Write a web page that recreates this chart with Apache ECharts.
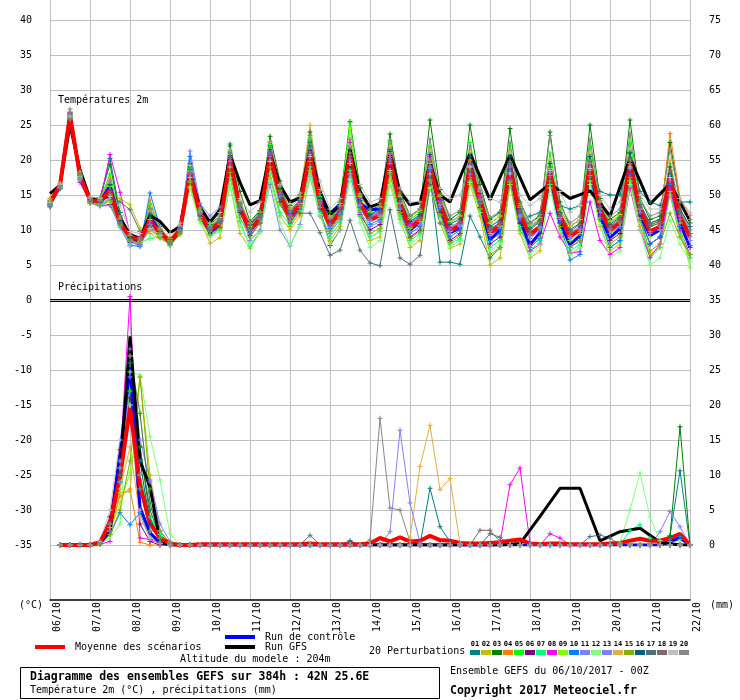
<!DOCTYPE html>
<html><head><meta charset="utf-8">
<script src="https://cdn.jsdelivr.net/npm/echarts@6/dist/echarts.min.js"></script>
<style>html,body{margin:0;padding:0;background:#fff}#c{width:740px;height:700px}</style>
</head><body><div id="c"></div>
<script>
const DATE_LABELS = ['06/10','07/10','08/10','09/10','10/10','11/10','12/10','13/10','14/10','15/10','16/10','17/10','18/10','19/10','20/10','21/10','22/10'];
const STEP_H = 6;
const PERT_NAMES = ['01','02','03','04','05','06','07','08','09','10','11','12','13','14','15','16','17','18','19','20'];
const PERT_COLORS = ['#008080','#c0c000','#008000','#ff8000','#00ff00','#800080','#00ff80','#ff00ff','#80ff00','#0080ff','#8080ff','#80ff80','#8080ff','#e0b040','#80b000','#006080','#507078','#806870','#c0c0c0','#888888'];

// Temperature 2m (°C), 6-hourly from 06/10 00Z
const MEAN_T = [13.9,16.4,26.4,17.7, 14.3,14.0,15.7,11.0, 9.0,8.6,11.4,9.6, 8.3,10.0,18.1,12.4, 10.0,11.0,20.0,13.1, 10.0,11.7,20.7,15.0, 11.9,13.6,21.0,13.8, 10.7,12.6,20.7,13.8, 11.4,12.1,20.2,13.8, 10.3,11.4,19.2,13.6, 9.8,10.7,19.0,14.3, 9.6,10.5,19.0,12.1, 9.3,10.5,18.3,11.9, 9.1,10.0,19.3,12.9, 10.0,11.0,19.5,12.9, 9.8,10.5,17.4,11.9, 9.0];
const CTRL_T = [14.0,16.4,26.6,17.5, 14.2,14.0,16.3,11.2, 9.0,8.3,11.8,9.8, 8.2,9.8,18.4,12.2, 9.7,10.8,20.3,13.0, 9.8,11.5,21.2,15.0, 11.7,13.4,21.3,14.4, 12.4,13.6,20.5,13.8, 12.9,13.0,20.0,13.5, 10.0,11.2,19.0,13.0, 9.6,10.3,19.5,13.8, 8.6,10.0,18.8,11.3, 7.9,9.6,18.0,11.0, 7.9,9.2,19.0,12.0, 8.9,10.2,19.8,12.3, 9.2,10.0,17.8,11.0, 7.5];
const GFS_T = [15.2,16.4,25.0,18.6, 14.5,14.2,15.0,11.8, 9.3,8.8,12.1,11.2, 9.6,10.5,18.0,13.3, 11.1,12.9,20.8,16.8, 13.6,14.2,21.0,16.4, 14.0,14.6,21.5,15.5, 12.2,13.5,21.5,15.5, 13.3,13.8,21.0,15.5, 13.6,13.9,19.5,15.0, 14.0,null,21.0,null, 14.3,null,20.7,null, 14.3,null,16.6,null, 14.5,null,15.6,null, 12.0,null,20.3,null, 13.7,null,16.6,null, 11.3];

const T01 = [13.8,16.3,26.6,17.9, 14.6,14.5,20.2,12.5, 8.8,8.4,13.0,9.8, 8.5,10.2,19.0,12.8, 10.5,11.6,22.3,14.0, 10.8,12.4,22.0,16.0, 12.8,14.3,22.5,14.6, 11.5,13.2,22.0,14.5, 12.0,12.8,21.5,14.5, 11.0,12.0,17.6,5.4, 5.4,5.1,12.0,9.0, 6.0,7.5,17.0,11.0, 12.0,12.5,19.5,13.5, 13.0,13.5,20.0,15.5, 15.0,15.0,21.0,15.5, 14.0,13.5,18.0,14.0, 14.0];
const T02 = [13.6,16.2,26.0,17.5, 14.0,14.2,15.0,14.5, 13.6,10.3,9.5,8.8, 8.0,9.5,16.2,11.4, 8.1,8.9,16.4,9.5, 7.4,9.7,17.5,12.0, 10.0,12.0,18.5,12.0, 8.5,10.5,18.0,12.0, 8.5,9.0,17.0,11.5, 7.5,8.5,16.0,11.0, 7.4,8.0,16.5,12.0, 5.0,6.0,16.5,9.5, 6.0,7.0,16.5,9.5, 6.5,7.5,17.0,10.5, 7.0,8.0,17.0,10.5, 6.5,7.5,15.0,9.0, 6.0];
const T03 = [14.2,16.5,26.8,18.2, 14.6,14.6,19.4,12.0, 9.0,8.8,12.0,10.0, 8.7,10.4,19.5,13.0, 10.8,12.0,22.0,15.5, 11.2,12.8,23.4,17.0, 13.5,15.0,24.0,15.5, 12.5,14.0,25.5,16.0, 12.8,13.5,23.7,15.5, 12.0,13.0,25.7,15.8, 11.5,12.5,25.0,16.5, 11.5,12.5,24.5,14.0, 11.0,12.0,24.0,14.0, 10.5,11.5,25.0,14.5, 11.5,12.5,25.7,14.5, 11.5,12.0,22.5,14.0, 11.0];
const T04 = [14.5,16.6,26.9,18.0, 14.4,14.3,17.4,11.2, 8.5,8.0,14.3,10.2, 8.4,10.0,18.0,12.5, 9.8,10.8,20.3,13.0, 10.0,11.6,21.0,14.8, 10.5,12.5,22.0,14.0, 10.0,12.0,21.0,13.5, 11.5,12.0,20.5,13.8, 10.5,11.5,20.0,14.0, 10.0,11.0,20.0,15.0, 10.0,11.0,19.5,12.5, 9.5,10.5,18.5,12.0, 9.0,10.0,19.5,13.0, 10.0,11.0,19.5,13.0, 10.5,11.0,23.8,14.5, 12.1];
const T05 = [14.1,16.4,26.5,17.8, 14.5,14.4,18.0,11.5, 9.3,8.9,13.7,10.0, 8.6,10.3,18.8,12.7, 10.4,11.5,21.2,14.0, 10.6,12.2,22.2,16.2, 12.5,14.2,23.0,14.8, 11.8,13.5,25.3,15.2, 12.5,13.2,22.5,15.0, 11.5,12.5,22.0,15.0, 11.0,12.0,22.5,15.8, 11.0,12.0,22.0,13.5, 10.5,11.5,21.0,13.0, 10.5,11.5,22.0,14.0, 11.0,12.0,22.5,14.0, 10.5,11.5,19.5,12.5, 9.5];
const T06 = [13.5,16.0,26.2,17.2, 13.9,13.5,13.6,11.0, 8.2,7.9,10.5,9.0, 7.9,9.6,17.2,12.0, 9.5,10.4,19.0,12.5, 9.2,11.0,19.5,14.0, 11.0,13.0,20.0,13.0, 7.8,10.0,19.0,12.2, 10.0,10.8,19.0,12.8, 9.0,10.0,18.0,12.5, 8.5,9.5,17.5,13.2, 8.0,9.0,18.0,11.0, 8.0,9.5,17.0,11.0, 7.5,8.5,17.5,12.0, 8.5,9.5,18.0,12.0, 8.0,9.0,16.0,10.5, 7.5];
const T07 = [13.7,16.2,26.3,17.6, 14.2,13.8,14.2,10.6, 8.4,8.2,8.8,9.0, 8.0,9.7,17.0,11.8, 9.2,10.0,17.5,11.2, 7.6,9.8,18.0,12.5, 10.8,12.8,19.0,12.5, 9.0,11.0,18.5,12.0, 9.0,9.8,18.0,12.0, 8.5,9.5,17.0,12.0, 8.0,8.8,17.0,13.0, 7.5,8.5,17.0,10.5, 7.0,8.5,16.5,10.0, 7.0,8.0,17.0,11.5, 7.5,8.5,17.0,11.5, 6.0,7.5,15.5,9.5, 6.0];
const T08 = [13.6,16.1,26.7,16.8, 14.0,14.0,20.8,15.4, 9.5,9.0,11.0,9.5, 8.3,10.0,18.2,12.4, 10.0,11.0,20.0,13.2, 10.3,12.0,21.0,15.3, 12.2,14.0,21.5,14.2, 11.0,13.0,22.5,14.5, 11.8,12.6,20.8,14.0, 10.8,11.8,20.5,14.2, 10.2,11.0,19.5,14.8, 10.0,11.0,17.3,11.5, 7.0,8.0,12.4,9.0, 6.7,6.9,14.0,8.5, 6.5,7.5,16.0,10.0, 6.1,8.0,16.0,10.0, 6.5];
const T09 = [14.0,16.5,26.4,17.9, 14.4,14.2,16.2,11.0, 8.6,8.4,11.5,9.6, 8.5,10.1,18.5,12.6, 10.2,11.2,20.8,13.5, 10.5,12.0,21.6,15.6, 12.0,13.8,22.0,14.3, 10.8,12.8,24.5,14.8, 11.2,12.0,21.0,13.8, 10.2,11.2,19.5,13.6, 9.8,10.6,19.0,14.3, 9.5,10.5,19.5,12.0, 9.0,10.3,18.8,11.8, 8.5,9.5,19.8,13.0, 9.5,10.5,20.0,13.0, 9.0,10.0,17.5,11.0, 4.6];
const T10 = [13.4,15.9,25.8,17.0, 14.1,13.6,15.5,10.7, 7.9,7.6,15.3,10.5, 8.1,10.2,20.5,13.2, 9.9,11.2,21.0,13.8, 9.6,11.5,21.0,15.0, 11.5,13.2,21.2,13.5, 10.2,12.2,20.5,13.2, 10.8,11.5,19.8,13.2, 9.5,10.5,18.5,13.0, 9.0,10.0,18.5,14.0, 8.5,9.5,18.5,11.5, 7.5,8.8,17.5,11.0, 5.7,6.5,17.5,11.5, 7.5,8.5,18.0,11.5, 8.0,9.0,16.5,10.5, 7.8];
const T11 = [13.9,16.3,26.2,17.4, 13.8,13.4,13.5,10.4, 7.7,7.8,10.2,9.2, 8.2,10.5,21.3,13.8, 12.0,13.3,20.5,13.0, 8.5,10.0,16.5,10.0, 7.7,10.8,17.6,12.0, 9.5,11.5,18.0,12.5, 10.5,11.2,19.5,13.0, 9.8,10.8,18.8,13.2, 9.5,10.5,18.0,13.8, 9.2,10.2,18.2,11.8, 8.8,10.0,17.8,11.5, 8.8,9.8,18.5,12.5, 9.5,10.5,18.8,12.5, 9.5,10.0,17.0,11.5, 8.5];
const T12 = [13.6,16.1,26.0,17.3, 14.0,13.6,14.0,10.8, 8.0,8.3,8.7,9.2, 7.7,9.3,16.0,11.0, 9.0,9.8,16.3,10.5, 8.0,9.6,17.0,11.0, 7.9,10.5,17.5,12.2, 8.0,10.0,17.2,11.0, 7.5,8.5,16.5,11.0, 8.0,9.0,16.0,11.5, 7.6,8.5,16.8,12.5, 7.0,8.0,16.5,9.8, 6.5,7.8,16.0,9.8, 6.5,7.5,16.5,10.8, 6.0,7.0,16.5,10.0, 5.0,6.0,11.4,8.0, 5.5];
const T13 = [13.8,16.3,26.5,17.7, 14.1,13.8,14.5,11.0, 8.3,8.0,10.8,9.4, 8.3,10.0,18.3,12.3, 10.1,11.0,19.8,13.0, 10.0,11.6,20.5,14.8, 11.8,13.5,20.8,13.8, 10.5,12.4,20.0,13.6, 11.4,12.2,20.2,13.9, 10.4,11.5,19.0,13.6, 10.0,10.8,19.2,14.4, 9.8,10.6,19.0,12.2, 9.3,10.5,18.2,12.0, 9.2,10.2,19.5,13.0, 10.2,11.2,19.5,13.0, 9.8,10.5,17.5,12.0, 9.0];
const T14 = [14.3,16.6,26.9,18.3, 14.7,14.6,17.0,11.7, 9.2,8.7,12.8,10.3, 8.8,10.6,19.2,13.0, 10.6,11.8,21.5,14.2, 11.0,12.5,22.5,16.4, 13.0,14.8,25.0,15.8, 12.0,13.8,22.0,15.0, 12.6,13.4,22.0,14.8, 11.8,12.8,21.5,14.8, 11.2,12.0,21.0,15.5, 11.0,12.0,21.0,13.2, 10.6,11.8,20.0,12.8, 10.5,11.5,21.0,14.0, 11.2,12.2,21.5,13.8, 11.0,11.5,20.0,13.0, 10.5];
const T15 = [13.5,16.0,25.9,17.4, 13.9,13.5,14.2,10.8, 8.5,8.2,10.0,9.0, 7.8,9.4,16.8,11.5, 9.3,10.2,18.2,11.8, 9.0,11.0,19.0,13.6, 11.2,13.2,19.8,13.2, 9.8,11.8,19.5,12.8, 9.5,10.2,18.2,12.5, 8.8,9.8,17.2,12.2, 8.2,9.2,17.5,13.0, 6.5,7.5,16.8,10.0, 7.8,9.0,17.0,10.5, 7.5,8.5,17.8,11.8, 8.0,9.0,17.5,11.5, 7.0,8.0,12.4,9.0, 6.5];
const T16 = [13.7,16.2,26.4,17.8, 14.4,14.3,16.5,11.3, 8.9,8.6,12.3,9.8, 8.6,10.2,18.6,12.6, 10.3,11.4,20.6,13.6, 10.7,12.3,21.5,15.8, 12.5,14.2,22.0,14.5, 11.2,13.0,21.5,14.2, 12.2,13.0,21.2,14.4, 11.2,12.2,20.8,14.4, 10.8,11.6,20.5,15.2, 10.5,11.4,20.5,13.0, 10.2,11.4,19.5,12.5, 10.0,11.0,20.5,13.5, 10.8,11.8,21.0,13.6, 11.0,11.5,19.0,13.0, 10.5];
const T17 = [13.3,15.9,26.0,17.5, 14.3,14.0,15.0,14.0, 12.9,9.8,10.5,9.4, 8.2,9.8,17.6,12.1, 10.0,11.0,19.5,12.8, 10.2,12.0,20.0,14.5, 12.6,12.4,12.4,9.6, 6.4,7.1,11.4,7.1, 5.3,4.9,12.9,6.0, 5.1,6.4,16.5,11.0, 10.0,11.0,18.5,14.0, 10.0,11.0,19.5,12.5, 9.6,10.8,18.5,12.0, 9.5,10.5,19.0,13.0, 10.4,11.4,19.8,13.2, 10.5,11.0,18.0,12.5, 9.5];
const T18 = [14.0,16.4,26.6,17.9, 14.2,14.0,15.2,10.9, 8.7,8.5,11.2,9.5, 8.4,10.1,18.0,12.4, 10.2,11.3,20.2,13.4, 10.3,12.0,20.8,15.2, 12.0,13.6,21.0,14.0, 10.8,12.8,20.5,14.0, 11.6,12.4,20.0,14.0, 10.6,11.6,19.8,14.0, 10.4,11.2,19.5,14.6, 10.2,11.0,19.8,12.8, 10.0,11.2,19.0,12.4, 9.8,10.8,19.8,13.4, 10.6,11.6,20.2,13.4, 10.8,11.2,18.5,12.8, 10.0];
const T19 = [13.9,16.5,26.3,17.6, 14.6,14.5,14.8,13.5, 9.8,9.5,10.2,9.3, 9.5,11.0,17.5,12.6, 11.0,12.5,19.0,14.5, 12.5,14.0,19.8,16.5, 13.8,15.3,20.5,17.0, 13.0,14.5,19.5,16.5, 14.0,14.5,18.5,16.0, 14.0,14.0,18.0,16.0, 14.5,15.0,19.0,16.0, 14.5,14.0,18.0,15.0, 13.5,14.5,18.5,15.5, 12.5,13.5,18.8,15.0, 13.0,14.0,19.0,15.0, 13.0,13.0,17.5,14.5, 12.5];
const T20 = [13.5,16.2,27.3,17.8, 14.5,14.3,17.0,12.0, 8.4,8.6,13.0,10.0, 8.3,9.9,18.4,12.5, 10.4,11.6,21.0,13.7, 10.9,12.6,22.6,16.3, 12.6,14.4,23.5,15.2, 11.6,13.4,23.0,15.0, 13.0,13.8,22.8,15.3, 12.0,13.0,23.0,15.0, 12.0,12.8,22.0,15.6, 11.8,12.6,22.5,13.8, 11.0,12.2,23.5,13.5, 11.0,12.0,23.0,14.2, 12.0,13.0,23.8,14.5, 12.0,12.5,21.5,14.0, 11.5];

// Precipitation (mm per 6h), first value has no accumulation
const MEAN_R = [null,0,0,0,0,0.4,3.1,9.7,19.6,8.5, 3.1,1,0.2,0,0,0.1,0.1,0.1,0.1,0.1, 0.1,0.1,0.1,0.1,0.1,0.1,0.2,0.1,0.1,0.1, 0.1,0.1,0.2,1,0.5,1.1,0.5,0.6,1.3,0.7, 0.6,0.3,0.2,0.2,0.3,0.4,0.6,0.8,0.2,0.1, 0.2,0.2,0.1,0.1,0.1,0.1,0.2,0.3,0.6,0.9, 0.6,0.6,1,1.6,0];
const CTRL_R = [null,0,0,0,0,0.2,2,13,25.4,5.4, 1.7,0.3,0,0,0,0,0,0,0,0, 0,0,0,0,0,0,0,0,0,0, 0,0,0,0,0,0,0,0,0,0, 0,0,0,0,0,0,0,0,0,0, 0,0,0,0,0,0,0,0,0,0, 0,0,0.5,1,0];
const GFS_R = [null,0,0,0,0,0.3,2.5,10,29.8,12, 8.3,0.5,0,0,0,0,0,0,0,0, 0,0,0,0,0,0,0,0,0,0, 0,0,0,0,0,0,0,0,0,0, 0,0,null,0,null,0,null,0.2,null,4.1, null,8.1,null,8.1,null,0.6,null,1.9,null,2.4, null,0.4,null,0,0];

const R01 = [null,0,0,0,0,0.2,2,9,26,14, 5,1,0.2,0,0,0,0,0,0,0, 0,0,0,0,0,0,0,0,0,0, 0,0,0,0,0,0,0,0,8.1,2.6, 0.5,0,0,0,0,0,0,0,0,0, 0,0,0,0,0,0,0,0,0,0, 0,0,1.3,10.6,0];
const R02 = [null,0,0,0,0,0.1,1.5,7.5,7.6,24, 10,2,0.3,0,0,0,0,0,0,0, 0,0,0,0,0,0,0,0,0,0, 0,0,0,0,0,0,0,0,0,0, 0,0,0,0,0,0,0,0,0,0, 0,0,0,0,0,0,0,0,0,0, 0,0,0,0,0];
const R03 = [null,0,0,0,0,0.2,2.5,10,22,14, 4,0.8,0,0,0,0,0,0,0,0, 0,0,0,0,0,0,0,0,0,0, 0,0,0,0,0,0,0,0,0,0, 0,0,0,0,0,0,0,0,0,0, 0,0,0,0,0,0,0,0,0,0, 0,0,1.3,16.9,0];
const R04 = [null,0,0,0,0,0.1,2,7,8,0.4, 0,0,0,0,0,0,0,0,0,0, 0,0,0,0,0,0,0,0,0,0, 0,0,0,0,0,0,0,0,0,0, 0,0,0,0,0,0,0,0,0,0, 0,0,0,0,0,0,0,0,0,0, 0,0,0,0,0];
const R05 = [null,0,0,0,0,0.3,3,11,22,8, 2,0.5,0,0,0,0,0,0,0,0, 0,0,0,0,0,0,0,0,0,0, 0,0,0,0,0,0,0,0,0,0, 0,0,0,0,0,0,0,0,0,0, 0,0,0,0,0,0,0,0,0,0, 0,0,0.5,0.8,0];
const R06 = [null,0,0,0,0,0.5,4,13.6,21,3, 0.5,0,0,0,0,0,0,0,0,0, 0,0,0,0,0,0,0,0,0,0, 0,0,0,0,0,0,0,0,0,0, 0,0,0,0,0,0,0,0,0,0, 0,0,0,0,0,0,0,0,0,0, 0,0,0,0,0];
const R07 = [null,0,0,0,0,0.2,2,9,20,10, 4,1.5,0.3,0,0,0,0,0,0,0, 0,0,0,0,0,0,0,0,0,0, 0,0,0,0,0,0,0,0,0,0, 0,0,0,0,0,0,0,0,0,0, 0,0,0,0,0,0,0,0,2.1,2.9, 1,0,0,0,0];
const R08 = [null,0,0,0,0,0.1,0.5,12,35.5,1, 0.8,0.2,0,0,0,0,0,0,0,0, 0,0,0,0,0,0,0,0,0,0, 0,0,0,0,0,0,0,0,0,0, 0,0,0,0,0,0.3,8.6,11,0.3,0, 1.6,1,0,0,0,0,0,0,0,0, 0,0,0,0,0];
const R09 = [null,0,0,0,0,0.2,2,6,10.3,19, 6,1,0,0,0,0,0,0,0,0, 0,0,0,0,0,0,0,0,0,0, 0,0,0,0,0,0,0,0,0,0, 0,0,0,0,0,0,0,0,0,0, 0,0,0,0,0,0,0,0,0,0, 0,0,0,0,0];
const R10 = [null,0,0,0,0,0.3,1.5,4.6,2.9,4.6, 1,0.2,0,0,0,0,0,0,0,0, 0,0,0,0,0,0,0,0,0,0, 0,0,0,0,0,0,0,0,0,0, 0,0,0,0,0,0,0,0,0,0, 0,0,0,0,0,0,0,0,0,0, 0,0,0.8,1.2,0];
const R11 = [null,0,0,0,0,0.2,2.5,11,28,15, 9.3,3,0.5,0,0,0,0,0,0,0, 0,0,0,0,0,0,0,0,0,0, 0,0,0,0,1.9,16.4,6,0.3,0,0, 0,0,0,0,0,0,0,0,0,0, 0,0,0,0,0,0,0,0,0,0, 0,0,0,0,0];
const R12 = [null,0,0,0,0,0.1,1,3,24.7,24.3, 15.5,9.3,1.6,0,0,0,0,0,0,0, 0,0,0,0,0,0,0,0,0,0, 0,0,0,0,0,0,0,0,0,0, 0,0,0,0,0,0,0,0,0,0, 0,0,0,0,0,0,0,0.3,5,10.3, 4,0.6,0,0,0];
const R13 = [null,0,0,0,0,0.2,2,9,24,12, 9,2,0.3,0,0,0,0,0,0,0, 0,0,0,0,0,0,0,0,0,0, 0,0,0,0,0,0,0,0,0,0, 0,0,0,0,0,0,0,0,0,0, 0,0,0,0,0,0,0,0,0,0, 0,1.9,4.8,2.6,0];
const R14 = [null,0,0,0,0,0.3,2.5,8,14,4, 1,0.2,0,0,0,0,0,0,0,0, 0,0,0,0,0,0,0,0,0,0, 0,0,0,0,0,0,1,11.2,17.1,7.9, 9.5,0.2,0,0,0,0,0,0,0,0, 0,0,0,0,0,0,0,0,0,0, 0,0,0,0,0];
const R15 = [null,0,0,0,0,0.1,1.5,5,12,24, 8,2,0.3,0,0,0,0,0,0,0, 0,0,0,0,0,0,0,0,0,0, 0,0,0,0,0,0,0,0,0,0, 0,0,0,0,0,0,0,0,0,0, 0,0,0,0,0,0,0,0,0,0, 0,0,0,0,0];
const R16 = [null,0,0,0,0,0.3,3,12,26,12, 3,0.5,0,0,0,0,0,0,0,0, 0,0,0,0,0,0,0,0,0,0, 0.6,0,0,0,0,0,0,0,0,0, 0,0,0,0,0,0,0,0,0,0, 0,0,0,0,0,0,0,0,0,0, 0,0,0,0,0];
const R17 = [null,0,0,0,0,0.2,2,10,27,18.8, 6,1,0.2,0,0,0,0,0,0,0, 0,0,0,0,0,0,1.4,0,0,0, 0,0,0,0,0,0,0,0,0,0, 0,0,0,0,1.6,1.1,0,0,0,0, 0,0,0,0,1.2,1.4,1,0,0,0, 0,0,0,0,0];
const R18 = [null,0,0,0,0,0.3,3,12,27,8, 2,0.3,0,0,0,0,0,0,0,0, 0,0,0,0,0,0,0,0,0,0, 0,0,0,0,0,0,0,0,0,0, 0,0,0,2.1,2.1,0.5,0,0,0,0, 0,0,0,0,0,0,0,0,0,0, 0,0,0,0,0];
const R19 = [null,0,0,0,0,0.5,5,15,20,5, 1,0.2,0,0,0,0,0,0,0,0, 0,0,0,0,0,0,0,0,0,0, 0,0,0,0,0,0,0,0,0,0, 0,0,0,0,0,0,0,0,0,0, 0,0,0,0,0,0,0,0,0,0, 0,0,0,0,0];
const R20 = [null,0,0,0,0,0.3,3,12,27,10, 2,0.3,0,0,0,0,0,0,0,0, 0,0,0,0,0,0,0,0,0,0, 0,0,0.7,18.1,5.3,5,0.5,0,0,0, 0,0,0,0,0,0,0,0,0,0, 0,0,0,0,0,0,0,0,0,0, 0,0,0,0,0];

const PERT_T = [T01,T02,T03,T04,T05,T06,T07,T08,T09,T10,T11,T12,T13,T14,T15,T16,T17,T18,T19,T20];
const PERT_R = [R01,R02,R03,R04,R05,R06,R07,R08,R09,R10,R11,R12,R13,R14,R15,R16,R17,R18,R19,R20];

const FONT = '"DejaVu Sans Mono", monospace';
const toPts = arr => arr.map((v, i) => [i * STEP_H, v]);
const PLUS = 'path://M2,0H3V2H5V3H3V5H2V3H0V2H2Z';

const series = [];
PERT_T.forEach((arr, k) => {
  series.push({type:'line', name:'T'+PERT_NAMES[k], xAxisIndex:1, yAxisIndex:1, data:toPts(arr),
    symbol:PLUS, symbolSize:5, lineStyle:{width:1, color:PERT_COLORS[k]}, itemStyle:{color:PERT_COLORS[k]}, silent:true});
});
PERT_R.forEach((arr, k) => {
  series.push({type:'line', name:'R'+PERT_NAMES[k], xAxisIndex:1, yAxisIndex:2, data:toPts(arr),
    symbol:PLUS, symbolSize:5, lineStyle:{width:1, color:PERT_COLORS[k]}, itemStyle:{color:PERT_COLORS[k]}, silent:true});
});
const mainLine = (name, arr, yIdx, color, width) => ({type:'line', name, xAxisIndex:1, yAxisIndex:yIdx, data:toPts(arr),
  symbol:'none', connectNulls:true, lineStyle:{width, color}, itemStyle:{color}, silent:true});
series.push(mainLine('Run de contrôle', CTRL_T, 1, '#0000ff', 3));
series.push(mainLine('Run de contrôle', CTRL_R, 2, '#0000ff', 3));
series.push(mainLine('Run GFS', GFS_T, 1, '#000000', 3));
series.push(mainLine('Run GFS', GFS_R, 2, '#000000', 3));
const meanT = mainLine('Moyenne des scénarios', MEAN_T, 1, '#ff0000', 4);
meanT.markLine = {silent:true, symbol:'none', label:{show:false}, lineStyle:{color:'#000', width:1, type:'solid'},
  data:[{yAxis:0.15},{yAxis:-0.15}]};
series.push(meanT);
series.push(mainLine('Moyenne des scénarios', MEAN_R, 2, '#ff0000', 4));

const txt = (text, left, top, opts) => Object.assign({text, left, top, padding:0,
  textStyle:{fontFamily:FONT, fontSize:10, fontWeight:'normal', color:'#000'}}, opts || {});
const boldStyle = {textStyle:{fontFamily:FONT, fontSize:11.5, fontWeight:'bold', color:'#000'}};

const graphicEls = [
  {type:'rect', shape:{x:20.5, y:667.5, width:419, height:31}, style:{fill:'none', stroke:'#000', lineWidth:1}}
];
PERT_COLORS.forEach((c, k) => {
  graphicEls.push({type:'rect', shape:{x:470 + k * 11, y:650, width:10, height:5}, style:{fill:c}});
  graphicEls.push({type:'text', x:475 + k * 11, y:644, style:{text:PERT_NAMES[k], fill:'#000',
    font:'bold 7px "DejaVu Sans Mono"', align:'center', verticalAlign:'middle'}});
});

const option = {
  animation:false,
  backgroundColor:'#fff',
  grid:[
    {left:50, right:50, top:0, bottom:100, containLabel:false, outerBoundsMode:'none'},
    {left:50, right:50, top:20, bottom:155, containLabel:false, outerBoundsMode:'none'},
    {left:57, right:43, top:0, bottom:100, containLabel:false, outerBoundsMode:'none'}
  ],
  xAxis:[
    {gridIndex:0, type:'value', min:0, max:384, interval:24,
      axisLine:{show:true, onZero:false, lineStyle:{color:'#000', width:1.5}}, axisTick:{show:false},
      splitLine:{show:true, lineStyle:{color:'#c0c0c0', width:1}}, axisLabel:{show:false}},
    {gridIndex:1, type:'value', min:0, max:384, show:false},
    {gridIndex:2, type:'value', min:0, max:384, interval:24,
      axisLine:{show:false, onZero:false}, axisTick:{show:false}, splitLine:{show:false},
      axisLabel:{rotate:90, margin:2, fontFamily:FONT, fontSize:10, color:'#000',
        showMinLabel:true, showMaxLabel:true, formatter:v => DATE_LABELS[Math.round(v / 24)]}}
  ],
  yAxis:[
    {gridIndex:0, type:'value', min:0, max:1, show:false, splitLine:{show:false}},
    {gridIndex:1, type:'value', position:'left', min:-35, max:40, interval:5,
      axisLine:{show:false}, axisTick:{show:false},
      splitLine:{show:true, lineStyle:{color:'#c0c0c0', width:1}},
      axisLabel:{margin:18, fontFamily:FONT, fontSize:10, color:'#000'}},
    {gridIndex:1, type:'value', position:'right', min:0, max:75, interval:5,
      axisLine:{show:false}, axisTick:{show:false}, splitLine:{show:false},
      axisLabel:{margin:19, fontFamily:FONT, fontSize:10, color:'#000'}},
    {gridIndex:2, type:'value', min:0, max:1, show:false, splitLine:{show:false}}
  ],
  legend:[
    {data:['Moyenne des scénarios'], left:35, top:642, padding:0, icon:'rect', itemWidth:30, itemHeight:4,
      selectedMode:false, textStyle:{fontFamily:FONT, fontSize:10, color:'#000', lineHeight:10, padding:[0,0,0,5]}},
    {data:['Run de contrôle','Run GFS'], orient:'vertical', left:225, top:632, padding:0, itemGap:0, icon:'rect',
      itemWidth:30, itemHeight:4, selectedMode:false,
      textStyle:{fontFamily:FONT, fontSize:10, color:'#000', lineHeight:10, padding:[0,0,0,5]}}
  ],
  title:[
    txt('Températures 2m', 58, 95),
    txt('Précipitations', 58, 282),
    txt('(°C)', 19, 600),
    txt('(mm)', 710, 600),
    txt('Altitude du modele : 204m', 180, 654),
    txt('20 Perturbations', 369, 646),
    txt('Ensemble GEFS du 06/10/2017 - 00Z', 450, 666),
    txt('Copyright 2017 Meteociel.fr', 450, 685, boldStyle),
    txt('Diagramme des ensembles GEFS sur 384h : 42N 25.6E', 30, 671, boldStyle),
    txt('Température 2m (°C) , précipitations (mm)', 30, 685)
  ],
  graphic:{elements:graphicEls},
  series
};
const chart = echarts.init(document.getElementById('c'), null, {renderer:'canvas'});
chart.setOption(option);
</script>
</body></html>
